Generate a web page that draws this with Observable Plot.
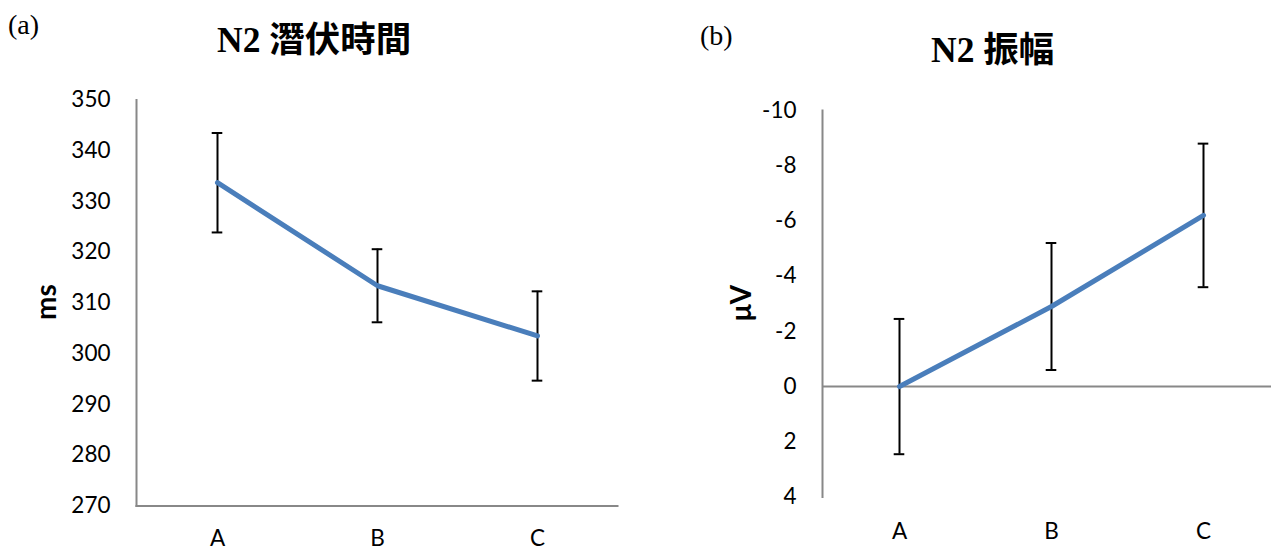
<!DOCTYPE html>
<html><head><meta charset="utf-8">
<script src="https://cdn.jsdelivr.net/npm/d3@7"></script>
<script src="https://cdn.jsdelivr.net/npm/@observablehq/plot@0.6"></script>
<style>
html,body{margin:0;padding:0;background:#fff;overflow:hidden;}
#wrap{position:relative;width:1271px;height:551px;overflow:hidden;}
.panel{position:absolute;top:0;}
#overlay{position:absolute;left:0;top:0;pointer-events:none;}
</style></head><body>
<div id="wrap"></div>
<script>
const categories = ["A", "B", "C"];
const latencyMean = [333.7, 313.4, 303.5];
const latencyErr = [9.8, 7.2, 8.8];
const amplitudeMean = [0, -2.9, -6.2];
const amplitudeErr = [2.45, 2.3, 2.6];
const latencyTicks = [270, 280, 290, 300, 310, 320, 330, 340, 350];
const amplitudeTicks = [-10, -8, -6, -4, -2, 0, 2, 4];
const titles = ["N2 潛伏時間", "N2 振幅"];
const tags = ["(a)", "(b)"];
const yLabels = ["ms", "μV"];

const wrap = document.getElementById("wrap");
const axisColor = "#888888";
const lineColor = "#4a7ebb";

function panel(opts) {
  const data = categories.map((c, i) => ({
    cat: c, mean: opts.mean[i], lo: opts.mean[i] - opts.err[i], hi: opts.mean[i] + opts.err[i]
  }));
  const capInset = opts.capInset;
  return Plot.plot({
    width: opts.width, height: 551,
    marginLeft: opts.ml, marginRight: opts.mr, marginTop: opts.mt, marginBottom: opts.mb,
    style: {fontFamily: "Lato, sans-serif", fontSize: "22.5px", color: "#000", background: "transparent", overflow: "visible"},
    x: {type: "band", domain: categories, padding: 0, label: null},
    y: {domain: opts.domain, reverse: !!opts.reverse, label: null},
    marks: [
      Plot.frame({anchor: "left", stroke: axisColor, strokeWidth: 2}),
      ...(opts.zero ? [Plot.ruleY([0], {stroke: axisColor, strokeWidth: 2})]
                    : [Plot.frame({anchor: "bottom", stroke: axisColor, strokeWidth: 2})]),
      Plot.axisY({ticks: opts.ticks, tickSize: 0, tickPadding: 26, label: null, fill: "#000", tickFormat: d => String(d)}),
      Plot.axisX({tickSize: 0, tickPadding: opts.xpad, label: null, fill: "#000"}),
      Plot.ruleX(data, {x: "cat", y1: "lo", y2: "hi", stroke: "#000", strokeWidth: 2}),
      Plot.tickY(data, {x: "cat", y: "lo", stroke: "#000", strokeWidth: 2, insetLeft: capInset, insetRight: capInset}),
      Plot.tickY(data, {x: "cat", y: "hi", stroke: "#000", strokeWidth: 2, insetLeft: capInset, insetRight: capInset}),
      Plot.line(data, {x: "cat", y: "mean", stroke: lineColor, strokeWidth: 5, strokeLinejoin: "round"})
    ]
  });
}

const left = panel({
  mean: latencyMean, err: latencyErr, ticks: latencyTicks, domain: [270, 350],
  width: 640, ml: 136, mr: 23, mt: 99.5, mb: 45.5, xpad: 24.5, capInset: 74.7
});
left.classList.add("panel");
left.style.left = "0px";
wrap.appendChild(left);

const right = panel({
  mean: amplitudeMean, err: amplitudeErr, ticks: amplitudeTicks, domain: [-10, 4], reverse: true, zero: true,
  width: 645, ml: 182, mr: 5.5, mt: 110, mb: 54.5, xpad: 26, capInset: 70.7
});
right.classList.add("panel");
right.style.left = "640px";
wrap.appendChild(right);

// Text overlay (titles, panel tags, axis titles)
const svg = d3.select(wrap).append("svg").attr("id", "overlay").attr("width", 1271).attr("height", 551);
const titlePos = [[217, 52], [931, 62]];
titles.forEach((t, i) => {
  svg.append("text").attr("x", titlePos[i][0]).attr("y", titlePos[i][1])
    .attr("font-family", "'Liberation Serif', 'Noto Sans CJK TC', serif")
    .attr("font-weight", "bold").attr("font-size", 35.5).attr("fill", "#000").text(t);
});
const tagPos = [[8, 34], [700, 45]];
tags.forEach((t, i) => {
  svg.append("text").attr("x", tagPos[i][0]).attr("y", tagPos[i][1])
    .attr("font-family", "'Liberation Serif', serif").attr("font-size", 28).attr("fill", "#000").text(t);
});
const ylabPos = [[45, 302], [740, 303]];
yLabels.forEach((t, i) => {
  svg.append("text")
    .attr("transform", `translate(${ylabPos[i][0]},${ylabPos[i][1]}) rotate(-90)`)
    .attr("text-anchor", "middle").attr("dominant-baseline", "central")
    .attr("font-family", "Lato, sans-serif").attr("font-weight", "bold").attr("font-size", 28)
    .attr("fill", "#000").text(t);
});
</script>
</body></html>
